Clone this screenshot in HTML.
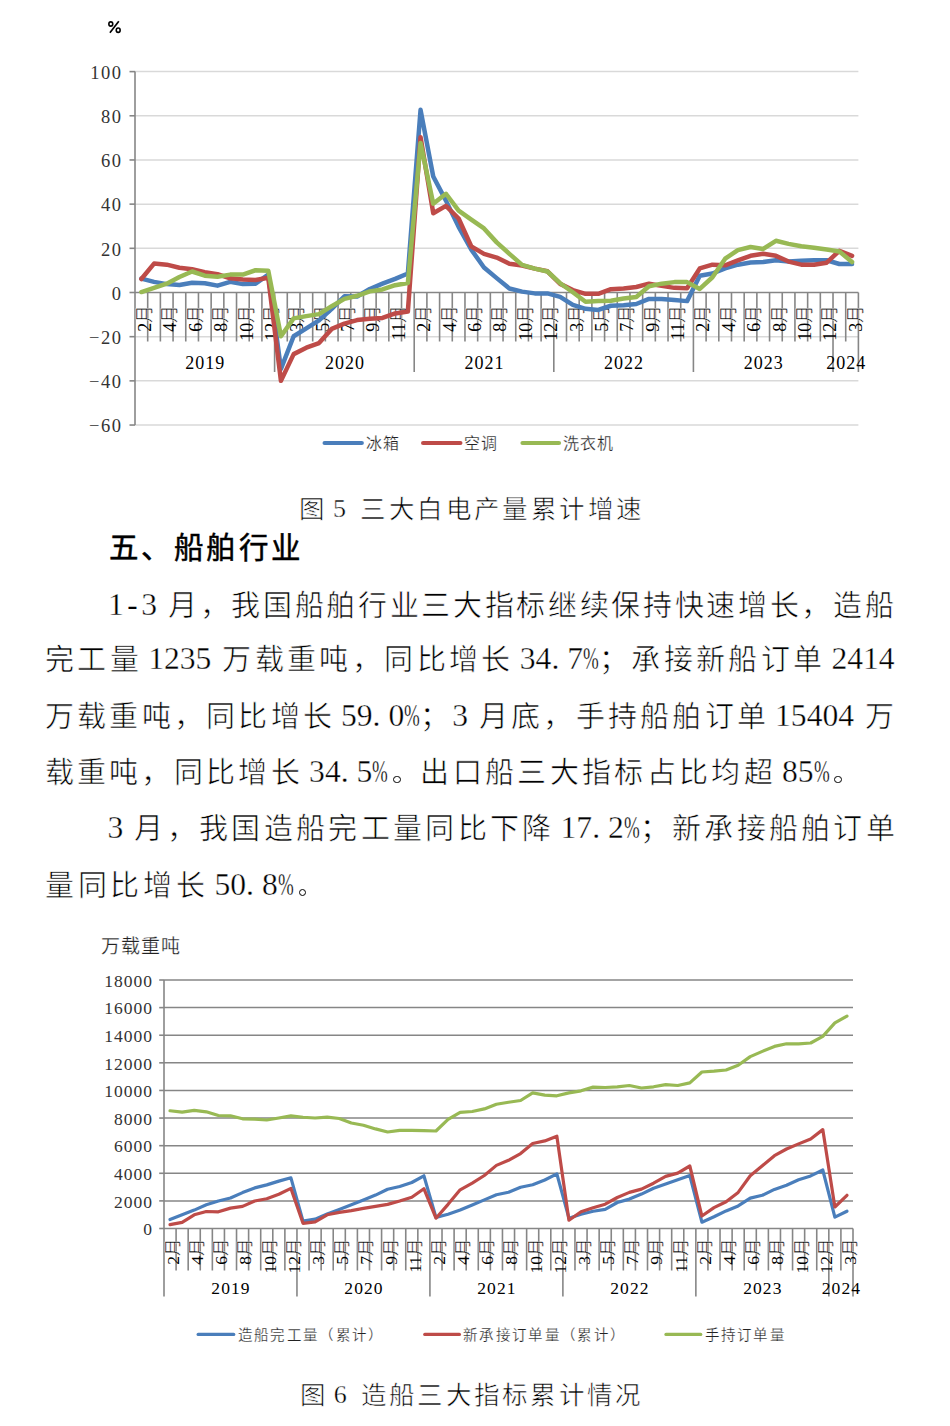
<!DOCTYPE html>
<html lang="zh-CN"><head><meta charset="utf-8"><title>船舶行业</title>
<style>
html,body{margin:0;padding:0;background:#fff}
body{width:950px;height:1426px;position:relative;overflow:hidden}
svg{position:absolute;left:0;top:0}
.t{position:absolute;white-space:nowrap;font-family:"Liberation Serif", serif;font-size:29px;line-height:40px;color:#000;-webkit-text-stroke:0.6px #fff}
.n{font-family:"Liberation Serif", serif;font-size:31.6px;vertical-align:0.8px;-webkit-text-stroke:0.35px #fff}
.pc{display:inline-block;font-family:"Liberation Serif", serif;font-size:31.6px;vertical-align:0.8px;transform:scaleX(0.6);transform-origin:0 0;-webkit-text-stroke:0.35px #fff;letter-spacing:0}
.o{display:inline-block;height:1px;position:relative}
.o::after{content:'';position:absolute;left:5px;bottom:-0.5px;width:5.5px;height:5.5px;border:1.1px solid #000;border-radius:50%}
.m{font-family:"Liberation Mono",monospace;letter-spacing:0px;-webkit-text-stroke:0}
.s{display:inline-block}
.cap{position:absolute;white-space:nowrap;font-family:"Liberation Serif", serif;font-size:25.5px;line-height:30px;color:#000;-webkit-text-stroke:0.6px #fff}
.h{position:absolute;white-space:nowrap;font-family:"Liberation Sans", sans-serif;font-weight:normal;-webkit-text-stroke:0.5px #000;font-size:29.5px;line-height:40px;color:#000}
</style></head>
<body>
<svg width="950" height="1426" viewBox="0 0 950 1426">
<g fill="none" stroke="#000" stroke-width="1.6"><ellipse cx="110.8" cy="24.0" rx="1.95" ry="2.1"/><ellipse cx="118.2" cy="30.2" rx="1.95" ry="2.2"/><line x1="109.9" y1="32.7" x2="118.8" y2="21.2" stroke-width="1.7"/></g>
<line x1="135" y1="71.6" x2="858.4" y2="71.6" stroke="#D9D9D9" stroke-width="1.5"/>
<line x1="135" y1="115.78" x2="858.4" y2="115.78" stroke="#D9D9D9" stroke-width="1.5"/>
<line x1="135" y1="159.96" x2="858.4" y2="159.96" stroke="#D9D9D9" stroke-width="1.5"/>
<line x1="135" y1="204.14" x2="858.4" y2="204.14" stroke="#D9D9D9" stroke-width="1.5"/>
<line x1="135" y1="248.32" x2="858.4" y2="248.32" stroke="#D9D9D9" stroke-width="1.5"/>
<line x1="135" y1="336.68" x2="858.4" y2="336.68" stroke="#D9D9D9" stroke-width="1.5"/>
<line x1="135" y1="380.86" x2="858.4" y2="380.86" stroke="#D9D9D9" stroke-width="1.5"/>
<line x1="135" y1="425.04" x2="858.4" y2="425.04" stroke="#D9D9D9" stroke-width="1.5"/>
<line x1="129.5" y1="71.6" x2="135" y2="71.6" stroke="#868686" stroke-width="1.6"/>
<line x1="129.5" y1="115.78" x2="135" y2="115.78" stroke="#868686" stroke-width="1.6"/>
<line x1="129.5" y1="159.96" x2="135" y2="159.96" stroke="#868686" stroke-width="1.6"/>
<line x1="129.5" y1="204.14" x2="135" y2="204.14" stroke="#868686" stroke-width="1.6"/>
<line x1="129.5" y1="248.32" x2="135" y2="248.32" stroke="#868686" stroke-width="1.6"/>
<line x1="129.5" y1="292.5" x2="135" y2="292.5" stroke="#868686" stroke-width="1.6"/>
<line x1="129.5" y1="336.68" x2="135" y2="336.68" stroke="#868686" stroke-width="1.6"/>
<line x1="129.5" y1="380.86" x2="135" y2="380.86" stroke="#868686" stroke-width="1.6"/>
<line x1="129.5" y1="425.04" x2="135" y2="425.04" stroke="#868686" stroke-width="1.6"/>
<line x1="147.69" y1="292.5" x2="147.69" y2="341.5" stroke="#868686" stroke-width="1.6"/>
<line x1="160.38" y1="292.5" x2="160.38" y2="341.5" stroke="#868686" stroke-width="1.6"/>
<line x1="173.07" y1="292.5" x2="173.07" y2="341.5" stroke="#868686" stroke-width="1.6"/>
<line x1="185.76" y1="292.5" x2="185.76" y2="341.5" stroke="#868686" stroke-width="1.6"/>
<line x1="198.46" y1="292.5" x2="198.46" y2="341.5" stroke="#868686" stroke-width="1.6"/>
<line x1="211.15" y1="292.5" x2="211.15" y2="341.5" stroke="#868686" stroke-width="1.6"/>
<line x1="223.84" y1="292.5" x2="223.84" y2="341.5" stroke="#868686" stroke-width="1.6"/>
<line x1="236.53" y1="292.5" x2="236.53" y2="341.5" stroke="#868686" stroke-width="1.6"/>
<line x1="249.22" y1="292.5" x2="249.22" y2="341.5" stroke="#868686" stroke-width="1.6"/>
<line x1="261.91" y1="292.5" x2="261.91" y2="341.5" stroke="#868686" stroke-width="1.6"/>
<line x1="274.6" y1="292.5" x2="274.6" y2="372" stroke="#868686" stroke-width="1.6"/>
<line x1="287.29" y1="292.5" x2="287.29" y2="341.5" stroke="#868686" stroke-width="1.6"/>
<line x1="299.99" y1="292.5" x2="299.99" y2="341.5" stroke="#868686" stroke-width="1.6"/>
<line x1="312.68" y1="292.5" x2="312.68" y2="341.5" stroke="#868686" stroke-width="1.6"/>
<line x1="325.37" y1="292.5" x2="325.37" y2="341.5" stroke="#868686" stroke-width="1.6"/>
<line x1="338.06" y1="292.5" x2="338.06" y2="341.5" stroke="#868686" stroke-width="1.6"/>
<line x1="350.75" y1="292.5" x2="350.75" y2="341.5" stroke="#868686" stroke-width="1.6"/>
<line x1="363.44" y1="292.5" x2="363.44" y2="341.5" stroke="#868686" stroke-width="1.6"/>
<line x1="376.13" y1="292.5" x2="376.13" y2="341.5" stroke="#868686" stroke-width="1.6"/>
<line x1="388.82" y1="292.5" x2="388.82" y2="341.5" stroke="#868686" stroke-width="1.6"/>
<line x1="401.52" y1="292.5" x2="401.52" y2="341.5" stroke="#868686" stroke-width="1.6"/>
<line x1="414.21" y1="292.5" x2="414.21" y2="372" stroke="#868686" stroke-width="1.6"/>
<line x1="426.9" y1="292.5" x2="426.9" y2="341.5" stroke="#868686" stroke-width="1.6"/>
<line x1="439.59" y1="292.5" x2="439.59" y2="341.5" stroke="#868686" stroke-width="1.6"/>
<line x1="452.28" y1="292.5" x2="452.28" y2="341.5" stroke="#868686" stroke-width="1.6"/>
<line x1="464.97" y1="292.5" x2="464.97" y2="341.5" stroke="#868686" stroke-width="1.6"/>
<line x1="477.66" y1="292.5" x2="477.66" y2="341.5" stroke="#868686" stroke-width="1.6"/>
<line x1="490.35" y1="292.5" x2="490.35" y2="341.5" stroke="#868686" stroke-width="1.6"/>
<line x1="503.05" y1="292.5" x2="503.05" y2="341.5" stroke="#868686" stroke-width="1.6"/>
<line x1="515.74" y1="292.5" x2="515.74" y2="341.5" stroke="#868686" stroke-width="1.6"/>
<line x1="528.43" y1="292.5" x2="528.43" y2="341.5" stroke="#868686" stroke-width="1.6"/>
<line x1="541.12" y1="292.5" x2="541.12" y2="341.5" stroke="#868686" stroke-width="1.6"/>
<line x1="553.81" y1="292.5" x2="553.81" y2="372" stroke="#868686" stroke-width="1.6"/>
<line x1="566.5" y1="292.5" x2="566.5" y2="341.5" stroke="#868686" stroke-width="1.6"/>
<line x1="579.19" y1="292.5" x2="579.19" y2="341.5" stroke="#868686" stroke-width="1.6"/>
<line x1="591.88" y1="292.5" x2="591.88" y2="341.5" stroke="#868686" stroke-width="1.6"/>
<line x1="604.58" y1="292.5" x2="604.58" y2="341.5" stroke="#868686" stroke-width="1.6"/>
<line x1="617.27" y1="292.5" x2="617.27" y2="341.5" stroke="#868686" stroke-width="1.6"/>
<line x1="629.96" y1="292.5" x2="629.96" y2="341.5" stroke="#868686" stroke-width="1.6"/>
<line x1="642.65" y1="292.5" x2="642.65" y2="341.5" stroke="#868686" stroke-width="1.6"/>
<line x1="655.34" y1="292.5" x2="655.34" y2="341.5" stroke="#868686" stroke-width="1.6"/>
<line x1="668.03" y1="292.5" x2="668.03" y2="341.5" stroke="#868686" stroke-width="1.6"/>
<line x1="680.72" y1="292.5" x2="680.72" y2="341.5" stroke="#868686" stroke-width="1.6"/>
<line x1="693.41" y1="292.5" x2="693.41" y2="372" stroke="#868686" stroke-width="1.6"/>
<line x1="706.11" y1="292.5" x2="706.11" y2="341.5" stroke="#868686" stroke-width="1.6"/>
<line x1="718.8" y1="292.5" x2="718.8" y2="341.5" stroke="#868686" stroke-width="1.6"/>
<line x1="731.49" y1="292.5" x2="731.49" y2="341.5" stroke="#868686" stroke-width="1.6"/>
<line x1="744.18" y1="292.5" x2="744.18" y2="341.5" stroke="#868686" stroke-width="1.6"/>
<line x1="756.87" y1="292.5" x2="756.87" y2="341.5" stroke="#868686" stroke-width="1.6"/>
<line x1="769.56" y1="292.5" x2="769.56" y2="341.5" stroke="#868686" stroke-width="1.6"/>
<line x1="782.25" y1="292.5" x2="782.25" y2="341.5" stroke="#868686" stroke-width="1.6"/>
<line x1="794.94" y1="292.5" x2="794.94" y2="341.5" stroke="#868686" stroke-width="1.6"/>
<line x1="807.64" y1="292.5" x2="807.64" y2="341.5" stroke="#868686" stroke-width="1.6"/>
<line x1="820.33" y1="292.5" x2="820.33" y2="341.5" stroke="#868686" stroke-width="1.6"/>
<line x1="833.02" y1="292.5" x2="833.02" y2="372" stroke="#868686" stroke-width="1.6"/>
<line x1="845.71" y1="292.5" x2="845.71" y2="341.5" stroke="#868686" stroke-width="1.6"/>
<line x1="858.4" y1="292.5" x2="858.4" y2="372" stroke="#868686" stroke-width="1.6"/>
<line x1="135" y1="71.6" x2="135" y2="425" stroke="#868686" stroke-width="1.6"/>
<line x1="135" y1="292.5" x2="858.4" y2="292.5" stroke="#868686" stroke-width="1.6"/>
<text x="122.4" y="78.8" text-anchor="end" font-family='"Liberation Serif", serif' font-size="18.5" letter-spacing="1.5" fill="#333">100</text>
<text x="122.4" y="122.98" text-anchor="end" font-family='"Liberation Serif", serif' font-size="18.5" letter-spacing="1.5" fill="#333">80</text>
<text x="122.4" y="167.16" text-anchor="end" font-family='"Liberation Serif", serif' font-size="18.5" letter-spacing="1.5" fill="#333">60</text>
<text x="122.4" y="211.34" text-anchor="end" font-family='"Liberation Serif", serif' font-size="18.5" letter-spacing="1.5" fill="#333">40</text>
<text x="122.4" y="255.52" text-anchor="end" font-family='"Liberation Serif", serif' font-size="18.5" letter-spacing="1.5" fill="#333">20</text>
<text x="122.4" y="299.7" text-anchor="end" font-family='"Liberation Serif", serif' font-size="18.5" letter-spacing="1.5" fill="#333">0</text>
<text x="122.4" y="343.88" text-anchor="end" font-family='"Liberation Serif", serif' font-size="18.5" letter-spacing="1.5" fill="#333">−20</text>
<text x="122.4" y="388.06" text-anchor="end" font-family='"Liberation Serif", serif' font-size="18.5" letter-spacing="1.5" fill="#333">−40</text>
<text x="122.4" y="432.24" text-anchor="end" font-family='"Liberation Serif", serif' font-size="18.5" letter-spacing="1.5" fill="#333">−60</text>
<text transform="translate(151.05,304.8) rotate(-90)" text-anchor="end" font-family='"Liberation Serif", serif' font-size="18" fill="#000" stroke="#fff" stroke-width="0.45"><tspan stroke="none">2</tspan>月</text>
<text transform="translate(176.43,304.8) rotate(-90)" text-anchor="end" font-family='"Liberation Serif", serif' font-size="18" fill="#000" stroke="#fff" stroke-width="0.45"><tspan stroke="none">4</tspan>月</text>
<text transform="translate(201.81,304.8) rotate(-90)" text-anchor="end" font-family='"Liberation Serif", serif' font-size="18" fill="#000" stroke="#fff" stroke-width="0.45"><tspan stroke="none">6</tspan>月</text>
<text transform="translate(227.19,304.8) rotate(-90)" text-anchor="end" font-family='"Liberation Serif", serif' font-size="18" fill="#000" stroke="#fff" stroke-width="0.45"><tspan stroke="none">8</tspan>月</text>
<text transform="translate(252.58,304.8) rotate(-90)" text-anchor="end" font-family='"Liberation Serif", serif' font-size="18" fill="#000" stroke="#fff" stroke-width="0.45"><tspan stroke="none">10</tspan>月</text>
<text transform="translate(277.96,304.8) rotate(-90)" text-anchor="end" font-family='"Liberation Serif", serif' font-size="18" fill="#000" stroke="#fff" stroke-width="0.45"><tspan stroke="none">12</tspan>月</text>
<text transform="translate(303.34,304.8) rotate(-90)" text-anchor="end" font-family='"Liberation Serif", serif' font-size="18" fill="#000" stroke="#fff" stroke-width="0.45"><tspan stroke="none">3</tspan>月</text>
<text transform="translate(328.72,304.8) rotate(-90)" text-anchor="end" font-family='"Liberation Serif", serif' font-size="18" fill="#000" stroke="#fff" stroke-width="0.45"><tspan stroke="none">5</tspan>月</text>
<text transform="translate(354.11,304.8) rotate(-90)" text-anchor="end" font-family='"Liberation Serif", serif' font-size="18" fill="#000" stroke="#fff" stroke-width="0.45"><tspan stroke="none">7</tspan>月</text>
<text transform="translate(379.49,304.8) rotate(-90)" text-anchor="end" font-family='"Liberation Serif", serif' font-size="18" fill="#000" stroke="#fff" stroke-width="0.45"><tspan stroke="none">9</tspan>月</text>
<text transform="translate(404.87,304.8) rotate(-90)" text-anchor="end" font-family='"Liberation Serif", serif' font-size="18" fill="#000" stroke="#fff" stroke-width="0.45"><tspan stroke="none">11</tspan>月</text>
<text transform="translate(430.25,304.8) rotate(-90)" text-anchor="end" font-family='"Liberation Serif", serif' font-size="18" fill="#000" stroke="#fff" stroke-width="0.45"><tspan stroke="none">2</tspan>月</text>
<text transform="translate(455.64,304.8) rotate(-90)" text-anchor="end" font-family='"Liberation Serif", serif' font-size="18" fill="#000" stroke="#fff" stroke-width="0.45"><tspan stroke="none">4</tspan>月</text>
<text transform="translate(481.02,304.8) rotate(-90)" text-anchor="end" font-family='"Liberation Serif", serif' font-size="18" fill="#000" stroke="#fff" stroke-width="0.45"><tspan stroke="none">6</tspan>月</text>
<text transform="translate(506.4,304.8) rotate(-90)" text-anchor="end" font-family='"Liberation Serif", serif' font-size="18" fill="#000" stroke="#fff" stroke-width="0.45"><tspan stroke="none">8</tspan>月</text>
<text transform="translate(531.78,304.8) rotate(-90)" text-anchor="end" font-family='"Liberation Serif", serif' font-size="18" fill="#000" stroke="#fff" stroke-width="0.45"><tspan stroke="none">10</tspan>月</text>
<text transform="translate(557.16,304.8) rotate(-90)" text-anchor="end" font-family='"Liberation Serif", serif' font-size="18" fill="#000" stroke="#fff" stroke-width="0.45"><tspan stroke="none">12</tspan>月</text>
<text transform="translate(582.55,304.8) rotate(-90)" text-anchor="end" font-family='"Liberation Serif", serif' font-size="18" fill="#000" stroke="#fff" stroke-width="0.45"><tspan stroke="none">3</tspan>月</text>
<text transform="translate(607.93,304.8) rotate(-90)" text-anchor="end" font-family='"Liberation Serif", serif' font-size="18" fill="#000" stroke="#fff" stroke-width="0.45"><tspan stroke="none">5</tspan>月</text>
<text transform="translate(633.31,304.8) rotate(-90)" text-anchor="end" font-family='"Liberation Serif", serif' font-size="18" fill="#000" stroke="#fff" stroke-width="0.45"><tspan stroke="none">7</tspan>月</text>
<text transform="translate(658.69,304.8) rotate(-90)" text-anchor="end" font-family='"Liberation Serif", serif' font-size="18" fill="#000" stroke="#fff" stroke-width="0.45"><tspan stroke="none">9</tspan>月</text>
<text transform="translate(684.08,304.8) rotate(-90)" text-anchor="end" font-family='"Liberation Serif", serif' font-size="18" fill="#000" stroke="#fff" stroke-width="0.45"><tspan stroke="none">11</tspan>月</text>
<text transform="translate(709.46,304.8) rotate(-90)" text-anchor="end" font-family='"Liberation Serif", serif' font-size="18" fill="#000" stroke="#fff" stroke-width="0.45"><tspan stroke="none">2</tspan>月</text>
<text transform="translate(734.84,304.8) rotate(-90)" text-anchor="end" font-family='"Liberation Serif", serif' font-size="18" fill="#000" stroke="#fff" stroke-width="0.45"><tspan stroke="none">4</tspan>月</text>
<text transform="translate(760.22,304.8) rotate(-90)" text-anchor="end" font-family='"Liberation Serif", serif' font-size="18" fill="#000" stroke="#fff" stroke-width="0.45"><tspan stroke="none">6</tspan>月</text>
<text transform="translate(785.61,304.8) rotate(-90)" text-anchor="end" font-family='"Liberation Serif", serif' font-size="18" fill="#000" stroke="#fff" stroke-width="0.45"><tspan stroke="none">8</tspan>月</text>
<text transform="translate(810.99,304.8) rotate(-90)" text-anchor="end" font-family='"Liberation Serif", serif' font-size="18" fill="#000" stroke="#fff" stroke-width="0.45"><tspan stroke="none">10</tspan>月</text>
<text transform="translate(836.37,304.8) rotate(-90)" text-anchor="end" font-family='"Liberation Serif", serif' font-size="18" fill="#000" stroke="#fff" stroke-width="0.45"><tspan stroke="none">12</tspan>月</text>
<text transform="translate(861.75,304.8) rotate(-90)" text-anchor="end" font-family='"Liberation Serif", serif' font-size="18" fill="#000" stroke="#fff" stroke-width="0.45"><tspan stroke="none">3</tspan>月</text>
<text x="205.3" y="369.3" text-anchor="middle" font-family='"Liberation Serif", serif' font-size="18" letter-spacing="1.0" fill="#000">2019</text>
<text x="344.91" y="369.3" text-anchor="middle" font-family='"Liberation Serif", serif' font-size="18" letter-spacing="1.0" fill="#000">2020</text>
<text x="484.51" y="369.3" text-anchor="middle" font-family='"Liberation Serif", serif' font-size="18" letter-spacing="1.0" fill="#000">2021</text>
<text x="624.11" y="369.3" text-anchor="middle" font-family='"Liberation Serif", serif' font-size="18" letter-spacing="1.0" fill="#000">2022</text>
<text x="763.72" y="369.3" text-anchor="middle" font-family='"Liberation Serif", serif' font-size="18" letter-spacing="1.0" fill="#000">2023</text>
<text x="846.21" y="369.3" text-anchor="middle" font-family='"Liberation Serif", serif' font-size="18" letter-spacing="1.0" fill="#000">2024</text>
<polyline points="141.35,278.58 154.04,281.9 166.73,284.11 179.42,284.99 192.11,282.78 204.8,283.22 217.49,285.65 230.18,281.9 242.88,284.11 255.57,283.66 268.26,274.61 280.95,368.93 293.64,336.24 306.33,328.29 319.02,320.33 331.71,308.85 344.41,296.26 357.1,296.48 369.79,288.97 382.48,283.66 395.17,278.8 407.86,273.5 420.55,109.82 433.24,176.53 445.94,200.61 458.63,226.89 471.32,249.65 484.01,267.54 496.7,278.14 509.39,288.52 522.08,291.62 534.77,293.38 547.46,293.38 560.16,296.92 572.85,304.87 585.54,308.85 598.23,309.95 610.92,305.75 623.61,305.31 636.3,303.99 648.99,298.91 661.69,298.91 674.38,300.01 687.07,301.12 699.76,275.71 712.45,273.5 725.14,268.42 737.83,264.67 750.52,262.46 763.22,262.02 775.91,260.25 788.6,261.57 801.29,260.69 813.98,260.25 826.67,260.25 839.36,264 852.05,264" fill="none" stroke="#4A7EBB" stroke-width="4.5" stroke-linejoin="round" stroke-linecap="round"/>
<polyline points="141.35,279.03 154.04,263.56 166.73,264.67 179.42,267.76 192.11,269.31 204.8,272.18 217.49,274.17 230.18,278.36 242.88,279.47 255.57,279.91 268.26,277.7 280.95,380.86 293.64,354.13 306.33,347.73 319.02,343.09 331.71,328.95 344.41,323.65 357.1,320.11 369.79,318.79 382.48,317.9 395.17,313.49 407.86,311.5 420.55,137.21 433.24,213.2 445.94,205.91 458.63,218.5 471.32,246.55 484.01,253.84 496.7,257.6 509.39,263.78 522.08,265.55 534.77,268.64 547.46,271.29 560.16,283.88 572.85,290.07 585.54,293.83 598.23,293.83 610.92,289.19 623.61,288.52 636.3,286.98 648.99,283.66 661.69,285.87 674.38,287.86 687.07,288.3 699.76,268.42 712.45,264.67 725.14,265.33 737.83,260.47 750.52,255.83 763.22,253.84 775.91,255.83 788.6,261.57 801.29,264.67 813.98,264.67 826.67,262.68 839.36,250.75 852.05,255.83" fill="none" stroke="#BE4B48" stroke-width="4.5" stroke-linejoin="round" stroke-linecap="round"/>
<polyline points="141.35,292.06 154.04,287.86 166.73,283.66 179.42,277.04 192.11,271.51 204.8,275.71 217.49,276.82 230.18,274.61 242.88,274.61 255.57,270.19 268.26,270.63 280.95,336.24 293.64,318.35 306.33,316.14 319.02,314.15 331.71,306.2 344.41,298.91 357.1,295.81 369.79,291.4 382.48,289.41 395.17,285.21 407.86,283 420.55,142.95 433.24,203.7 445.94,193.76 458.63,210.55 471.32,219.6 484.01,228.44 496.7,242.36 509.39,253.84 522.08,264.89 534.77,268.64 547.46,271.51 560.16,283.22 572.85,292.28 585.54,301.78 598.23,301.12 610.92,300.67 623.61,298.46 636.3,296.92 648.99,286.31 661.69,283.66 674.38,282.12 687.07,282.12 699.76,288.97 712.45,277.26 725.14,258.7 737.83,250.09 750.52,246.99 763.22,248.98 775.91,240.81 788.6,243.9 801.29,246.33 813.98,247.66 826.67,249.42 839.36,251.41 852.05,262.02" fill="none" stroke="#98B954" stroke-width="4.5" stroke-linejoin="round" stroke-linecap="round"/>
<line x1="324.6" y1="443" x2="361.8" y2="443" stroke="#4A7EBB" stroke-width="4.2" stroke-linecap="round"/><text x="366.0" y="448.8" font-family='"Liberation Serif", serif' font-size="16" letter-spacing="1.1" fill="#222" stroke="#fff" stroke-width="0.25">冰箱</text><line x1="423.1" y1="443" x2="460.4" y2="443" stroke="#BE4B48" stroke-width="4.2" stroke-linecap="round"/><text x="464.2" y="448.8" font-family='"Liberation Serif", serif' font-size="16" letter-spacing="1.1" fill="#222" stroke="#fff" stroke-width="0.25">空调</text><line x1="522.5" y1="443" x2="559.0" y2="443" stroke="#98B954" stroke-width="4.2" stroke-linecap="round"/><text x="562.5" y="448.8" font-family='"Liberation Serif", serif' font-size="16" letter-spacing="1.1" fill="#222" stroke="#fff" stroke-width="0.25">洗衣机</text>
<text x="100.5" y="952.5" font-family='"Liberation Serif", serif' font-size="19" letter-spacing="1" fill="#222" stroke="#fff" stroke-width="0.25">万载重吨</text>
<line x1="164" y1="1200.89" x2="853" y2="1200.89" stroke="#868686" stroke-width="1.5"/>
<line x1="164" y1="1173.28" x2="853" y2="1173.28" stroke="#868686" stroke-width="1.5"/>
<line x1="164" y1="1145.67" x2="853" y2="1145.67" stroke="#868686" stroke-width="1.5"/>
<line x1="164" y1="1118.06" x2="853" y2="1118.06" stroke="#868686" stroke-width="1.5"/>
<line x1="164" y1="1090.44" x2="853" y2="1090.44" stroke="#868686" stroke-width="1.5"/>
<line x1="164" y1="1062.83" x2="853" y2="1062.83" stroke="#868686" stroke-width="1.5"/>
<line x1="164" y1="1035.22" x2="853" y2="1035.22" stroke="#868686" stroke-width="1.5"/>
<line x1="164" y1="1007.61" x2="853" y2="1007.61" stroke="#868686" stroke-width="1.5"/>
<line x1="164" y1="980" x2="853" y2="980" stroke="#868686" stroke-width="1.5"/>
<line x1="159.2" y1="980" x2="164" y2="980" stroke="#868686" stroke-width="1.6"/>
<line x1="159.2" y1="1007.61" x2="164" y2="1007.61" stroke="#868686" stroke-width="1.6"/>
<line x1="159.2" y1="1035.22" x2="164" y2="1035.22" stroke="#868686" stroke-width="1.6"/>
<line x1="159.2" y1="1062.83" x2="164" y2="1062.83" stroke="#868686" stroke-width="1.6"/>
<line x1="159.2" y1="1090.44" x2="164" y2="1090.44" stroke="#868686" stroke-width="1.6"/>
<line x1="159.2" y1="1118.06" x2="164" y2="1118.06" stroke="#868686" stroke-width="1.6"/>
<line x1="159.2" y1="1145.67" x2="164" y2="1145.67" stroke="#868686" stroke-width="1.6"/>
<line x1="159.2" y1="1173.28" x2="164" y2="1173.28" stroke="#868686" stroke-width="1.6"/>
<line x1="159.2" y1="1200.89" x2="164" y2="1200.89" stroke="#868686" stroke-width="1.6"/>
<line x1="159.2" y1="1228.5" x2="164" y2="1228.5" stroke="#868686" stroke-width="1.6"/>
<line x1="176.09" y1="1228.5" x2="176.09" y2="1270.5" stroke="#868686" stroke-width="1.6"/>
<line x1="188.18" y1="1228.5" x2="188.18" y2="1270.5" stroke="#868686" stroke-width="1.6"/>
<line x1="200.26" y1="1228.5" x2="200.26" y2="1270.5" stroke="#868686" stroke-width="1.6"/>
<line x1="212.35" y1="1228.5" x2="212.35" y2="1270.5" stroke="#868686" stroke-width="1.6"/>
<line x1="224.44" y1="1228.5" x2="224.44" y2="1270.5" stroke="#868686" stroke-width="1.6"/>
<line x1="236.53" y1="1228.5" x2="236.53" y2="1270.5" stroke="#868686" stroke-width="1.6"/>
<line x1="248.61" y1="1228.5" x2="248.61" y2="1270.5" stroke="#868686" stroke-width="1.6"/>
<line x1="260.7" y1="1228.5" x2="260.7" y2="1270.5" stroke="#868686" stroke-width="1.6"/>
<line x1="272.79" y1="1228.5" x2="272.79" y2="1270.5" stroke="#868686" stroke-width="1.6"/>
<line x1="284.88" y1="1228.5" x2="284.88" y2="1270.5" stroke="#868686" stroke-width="1.6"/>
<line x1="296.96" y1="1228.5" x2="296.96" y2="1296.6" stroke="#868686" stroke-width="1.6"/>
<line x1="309.05" y1="1228.5" x2="309.05" y2="1270.5" stroke="#868686" stroke-width="1.6"/>
<line x1="321.14" y1="1228.5" x2="321.14" y2="1270.5" stroke="#868686" stroke-width="1.6"/>
<line x1="333.23" y1="1228.5" x2="333.23" y2="1270.5" stroke="#868686" stroke-width="1.6"/>
<line x1="345.32" y1="1228.5" x2="345.32" y2="1270.5" stroke="#868686" stroke-width="1.6"/>
<line x1="357.4" y1="1228.5" x2="357.4" y2="1270.5" stroke="#868686" stroke-width="1.6"/>
<line x1="369.49" y1="1228.5" x2="369.49" y2="1270.5" stroke="#868686" stroke-width="1.6"/>
<line x1="381.58" y1="1228.5" x2="381.58" y2="1270.5" stroke="#868686" stroke-width="1.6"/>
<line x1="393.67" y1="1228.5" x2="393.67" y2="1270.5" stroke="#868686" stroke-width="1.6"/>
<line x1="405.75" y1="1228.5" x2="405.75" y2="1270.5" stroke="#868686" stroke-width="1.6"/>
<line x1="417.84" y1="1228.5" x2="417.84" y2="1270.5" stroke="#868686" stroke-width="1.6"/>
<line x1="429.93" y1="1228.5" x2="429.93" y2="1296.6" stroke="#868686" stroke-width="1.6"/>
<line x1="442.02" y1="1228.5" x2="442.02" y2="1270.5" stroke="#868686" stroke-width="1.6"/>
<line x1="454.11" y1="1228.5" x2="454.11" y2="1270.5" stroke="#868686" stroke-width="1.6"/>
<line x1="466.19" y1="1228.5" x2="466.19" y2="1270.5" stroke="#868686" stroke-width="1.6"/>
<line x1="478.28" y1="1228.5" x2="478.28" y2="1270.5" stroke="#868686" stroke-width="1.6"/>
<line x1="490.37" y1="1228.5" x2="490.37" y2="1270.5" stroke="#868686" stroke-width="1.6"/>
<line x1="502.46" y1="1228.5" x2="502.46" y2="1270.5" stroke="#868686" stroke-width="1.6"/>
<line x1="514.54" y1="1228.5" x2="514.54" y2="1270.5" stroke="#868686" stroke-width="1.6"/>
<line x1="526.63" y1="1228.5" x2="526.63" y2="1270.5" stroke="#868686" stroke-width="1.6"/>
<line x1="538.72" y1="1228.5" x2="538.72" y2="1270.5" stroke="#868686" stroke-width="1.6"/>
<line x1="550.81" y1="1228.5" x2="550.81" y2="1270.5" stroke="#868686" stroke-width="1.6"/>
<line x1="562.89" y1="1228.5" x2="562.89" y2="1296.6" stroke="#868686" stroke-width="1.6"/>
<line x1="574.98" y1="1228.5" x2="574.98" y2="1270.5" stroke="#868686" stroke-width="1.6"/>
<line x1="587.07" y1="1228.5" x2="587.07" y2="1270.5" stroke="#868686" stroke-width="1.6"/>
<line x1="599.16" y1="1228.5" x2="599.16" y2="1270.5" stroke="#868686" stroke-width="1.6"/>
<line x1="611.25" y1="1228.5" x2="611.25" y2="1270.5" stroke="#868686" stroke-width="1.6"/>
<line x1="623.33" y1="1228.5" x2="623.33" y2="1270.5" stroke="#868686" stroke-width="1.6"/>
<line x1="635.42" y1="1228.5" x2="635.42" y2="1270.5" stroke="#868686" stroke-width="1.6"/>
<line x1="647.51" y1="1228.5" x2="647.51" y2="1270.5" stroke="#868686" stroke-width="1.6"/>
<line x1="659.6" y1="1228.5" x2="659.6" y2="1270.5" stroke="#868686" stroke-width="1.6"/>
<line x1="671.68" y1="1228.5" x2="671.68" y2="1270.5" stroke="#868686" stroke-width="1.6"/>
<line x1="683.77" y1="1228.5" x2="683.77" y2="1270.5" stroke="#868686" stroke-width="1.6"/>
<line x1="695.86" y1="1228.5" x2="695.86" y2="1296.6" stroke="#868686" stroke-width="1.6"/>
<line x1="707.95" y1="1228.5" x2="707.95" y2="1270.5" stroke="#868686" stroke-width="1.6"/>
<line x1="720.04" y1="1228.5" x2="720.04" y2="1270.5" stroke="#868686" stroke-width="1.6"/>
<line x1="732.12" y1="1228.5" x2="732.12" y2="1270.5" stroke="#868686" stroke-width="1.6"/>
<line x1="744.21" y1="1228.5" x2="744.21" y2="1270.5" stroke="#868686" stroke-width="1.6"/>
<line x1="756.3" y1="1228.5" x2="756.3" y2="1270.5" stroke="#868686" stroke-width="1.6"/>
<line x1="768.39" y1="1228.5" x2="768.39" y2="1270.5" stroke="#868686" stroke-width="1.6"/>
<line x1="780.47" y1="1228.5" x2="780.47" y2="1270.5" stroke="#868686" stroke-width="1.6"/>
<line x1="792.56" y1="1228.5" x2="792.56" y2="1270.5" stroke="#868686" stroke-width="1.6"/>
<line x1="804.65" y1="1228.5" x2="804.65" y2="1270.5" stroke="#868686" stroke-width="1.6"/>
<line x1="816.74" y1="1228.5" x2="816.74" y2="1270.5" stroke="#868686" stroke-width="1.6"/>
<line x1="828.82" y1="1228.5" x2="828.82" y2="1296.6" stroke="#868686" stroke-width="1.6"/>
<line x1="840.91" y1="1228.5" x2="840.91" y2="1270.5" stroke="#868686" stroke-width="1.6"/>
<line x1="853" y1="1228.5" x2="853" y2="1296.6" stroke="#868686" stroke-width="1.6"/>
<line x1="164" y1="979.9" x2="164" y2="1296.6" stroke="#868686" stroke-width="1.6"/>
<line x1="164" y1="1228.5" x2="853" y2="1228.5" stroke="#868686" stroke-width="1.6"/>
<text x="153" y="986.8" text-anchor="end" font-family='"Liberation Serif", serif' font-size="17.5" letter-spacing="1.0" fill="#333">18000</text>
<text x="153" y="1014.41" text-anchor="end" font-family='"Liberation Serif", serif' font-size="17.5" letter-spacing="1.0" fill="#333">16000</text>
<text x="153" y="1042.02" text-anchor="end" font-family='"Liberation Serif", serif' font-size="17.5" letter-spacing="1.0" fill="#333">14000</text>
<text x="153" y="1069.63" text-anchor="end" font-family='"Liberation Serif", serif' font-size="17.5" letter-spacing="1.0" fill="#333">12000</text>
<text x="153" y="1097.24" text-anchor="end" font-family='"Liberation Serif", serif' font-size="17.5" letter-spacing="1.0" fill="#333">10000</text>
<text x="153" y="1124.86" text-anchor="end" font-family='"Liberation Serif", serif' font-size="17.5" letter-spacing="1.0" fill="#333">8000</text>
<text x="153" y="1152.47" text-anchor="end" font-family='"Liberation Serif", serif' font-size="17.5" letter-spacing="1.0" fill="#333">6000</text>
<text x="153" y="1180.08" text-anchor="end" font-family='"Liberation Serif", serif' font-size="17.5" letter-spacing="1.0" fill="#333">4000</text>
<text x="153" y="1207.69" text-anchor="end" font-family='"Liberation Serif", serif' font-size="17.5" letter-spacing="1.0" fill="#333">2000</text>
<text x="153" y="1235.3" text-anchor="end" font-family='"Liberation Serif", serif' font-size="17.5" letter-spacing="1.0" fill="#333">0</text>
<text transform="translate(178.94,1238.9) rotate(-90)" text-anchor="end" font-family='"Liberation Serif", serif' font-size="17.5" fill="#000" stroke="#fff" stroke-width="0.45"><tspan stroke="none">2</tspan>月</text>
<text transform="translate(203.12,1238.9) rotate(-90)" text-anchor="end" font-family='"Liberation Serif", serif' font-size="17.5" fill="#000" stroke="#fff" stroke-width="0.45"><tspan stroke="none">4</tspan>月</text>
<text transform="translate(227.29,1238.9) rotate(-90)" text-anchor="end" font-family='"Liberation Serif", serif' font-size="17.5" fill="#000" stroke="#fff" stroke-width="0.45"><tspan stroke="none">6</tspan>月</text>
<text transform="translate(251.47,1238.9) rotate(-90)" text-anchor="end" font-family='"Liberation Serif", serif' font-size="17.5" fill="#000" stroke="#fff" stroke-width="0.45"><tspan stroke="none">8</tspan>月</text>
<text transform="translate(275.65,1238.9) rotate(-90)" text-anchor="end" font-family='"Liberation Serif", serif' font-size="17.5" fill="#000" stroke="#fff" stroke-width="0.45"><tspan stroke="none">10</tspan>月</text>
<text transform="translate(299.82,1238.9) rotate(-90)" text-anchor="end" font-family='"Liberation Serif", serif' font-size="17.5" fill="#000" stroke="#fff" stroke-width="0.45"><tspan stroke="none">12</tspan>月</text>
<text transform="translate(324,1238.9) rotate(-90)" text-anchor="end" font-family='"Liberation Serif", serif' font-size="17.5" fill="#000" stroke="#fff" stroke-width="0.45"><tspan stroke="none">3</tspan>月</text>
<text transform="translate(348.17,1238.9) rotate(-90)" text-anchor="end" font-family='"Liberation Serif", serif' font-size="17.5" fill="#000" stroke="#fff" stroke-width="0.45"><tspan stroke="none">5</tspan>月</text>
<text transform="translate(372.35,1238.9) rotate(-90)" text-anchor="end" font-family='"Liberation Serif", serif' font-size="17.5" fill="#000" stroke="#fff" stroke-width="0.45"><tspan stroke="none">7</tspan>月</text>
<text transform="translate(396.52,1238.9) rotate(-90)" text-anchor="end" font-family='"Liberation Serif", serif' font-size="17.5" fill="#000" stroke="#fff" stroke-width="0.45"><tspan stroke="none">9</tspan>月</text>
<text transform="translate(420.7,1238.9) rotate(-90)" text-anchor="end" font-family='"Liberation Serif", serif' font-size="17.5" fill="#000" stroke="#fff" stroke-width="0.45"><tspan stroke="none">11</tspan>月</text>
<text transform="translate(444.87,1238.9) rotate(-90)" text-anchor="end" font-family='"Liberation Serif", serif' font-size="17.5" fill="#000" stroke="#fff" stroke-width="0.45"><tspan stroke="none">2</tspan>月</text>
<text transform="translate(469.05,1238.9) rotate(-90)" text-anchor="end" font-family='"Liberation Serif", serif' font-size="17.5" fill="#000" stroke="#fff" stroke-width="0.45"><tspan stroke="none">4</tspan>月</text>
<text transform="translate(493.22,1238.9) rotate(-90)" text-anchor="end" font-family='"Liberation Serif", serif' font-size="17.5" fill="#000" stroke="#fff" stroke-width="0.45"><tspan stroke="none">6</tspan>月</text>
<text transform="translate(517.4,1238.9) rotate(-90)" text-anchor="end" font-family='"Liberation Serif", serif' font-size="17.5" fill="#000" stroke="#fff" stroke-width="0.45"><tspan stroke="none">8</tspan>月</text>
<text transform="translate(541.58,1238.9) rotate(-90)" text-anchor="end" font-family='"Liberation Serif", serif' font-size="17.5" fill="#000" stroke="#fff" stroke-width="0.45"><tspan stroke="none">10</tspan>月</text>
<text transform="translate(565.75,1238.9) rotate(-90)" text-anchor="end" font-family='"Liberation Serif", serif' font-size="17.5" fill="#000" stroke="#fff" stroke-width="0.45"><tspan stroke="none">12</tspan>月</text>
<text transform="translate(589.93,1238.9) rotate(-90)" text-anchor="end" font-family='"Liberation Serif", serif' font-size="17.5" fill="#000" stroke="#fff" stroke-width="0.45"><tspan stroke="none">3</tspan>月</text>
<text transform="translate(614.1,1238.9) rotate(-90)" text-anchor="end" font-family='"Liberation Serif", serif' font-size="17.5" fill="#000" stroke="#fff" stroke-width="0.45"><tspan stroke="none">5</tspan>月</text>
<text transform="translate(638.28,1238.9) rotate(-90)" text-anchor="end" font-family='"Liberation Serif", serif' font-size="17.5" fill="#000" stroke="#fff" stroke-width="0.45"><tspan stroke="none">7</tspan>月</text>
<text transform="translate(662.45,1238.9) rotate(-90)" text-anchor="end" font-family='"Liberation Serif", serif' font-size="17.5" fill="#000" stroke="#fff" stroke-width="0.45"><tspan stroke="none">9</tspan>月</text>
<text transform="translate(686.63,1238.9) rotate(-90)" text-anchor="end" font-family='"Liberation Serif", serif' font-size="17.5" fill="#000" stroke="#fff" stroke-width="0.45"><tspan stroke="none">11</tspan>月</text>
<text transform="translate(710.8,1238.9) rotate(-90)" text-anchor="end" font-family='"Liberation Serif", serif' font-size="17.5" fill="#000" stroke="#fff" stroke-width="0.45"><tspan stroke="none">2</tspan>月</text>
<text transform="translate(734.98,1238.9) rotate(-90)" text-anchor="end" font-family='"Liberation Serif", serif' font-size="17.5" fill="#000" stroke="#fff" stroke-width="0.45"><tspan stroke="none">4</tspan>月</text>
<text transform="translate(759.15,1238.9) rotate(-90)" text-anchor="end" font-family='"Liberation Serif", serif' font-size="17.5" fill="#000" stroke="#fff" stroke-width="0.45"><tspan stroke="none">6</tspan>月</text>
<text transform="translate(783.33,1238.9) rotate(-90)" text-anchor="end" font-family='"Liberation Serif", serif' font-size="17.5" fill="#000" stroke="#fff" stroke-width="0.45"><tspan stroke="none">8</tspan>月</text>
<text transform="translate(807.51,1238.9) rotate(-90)" text-anchor="end" font-family='"Liberation Serif", serif' font-size="17.5" fill="#000" stroke="#fff" stroke-width="0.45"><tspan stroke="none">10</tspan>月</text>
<text transform="translate(831.68,1238.9) rotate(-90)" text-anchor="end" font-family='"Liberation Serif", serif' font-size="17.5" fill="#000" stroke="#fff" stroke-width="0.45"><tspan stroke="none">12</tspan>月</text>
<text transform="translate(855.86,1238.9) rotate(-90)" text-anchor="end" font-family='"Liberation Serif", serif' font-size="17.5" fill="#000" stroke="#fff" stroke-width="0.45"><tspan stroke="none">3</tspan>月</text>
<text x="231.03" y="1294.1" text-anchor="middle" font-family='"Liberation Serif", serif' font-size="17.5" letter-spacing="1.1" fill="#000">2019</text>
<text x="364" y="1294.1" text-anchor="middle" font-family='"Liberation Serif", serif' font-size="17.5" letter-spacing="1.1" fill="#000">2020</text>
<text x="496.96" y="1294.1" text-anchor="middle" font-family='"Liberation Serif", serif' font-size="17.5" letter-spacing="1.1" fill="#000">2021</text>
<text x="629.93" y="1294.1" text-anchor="middle" font-family='"Liberation Serif", serif' font-size="17.5" letter-spacing="1.1" fill="#000">2022</text>
<text x="762.89" y="1294.1" text-anchor="middle" font-family='"Liberation Serif", serif' font-size="17.5" letter-spacing="1.1" fill="#000">2023</text>
<text x="841.46" y="1294.1" text-anchor="middle" font-family='"Liberation Serif", serif' font-size="17.5" letter-spacing="1.1" fill="#000">2024</text>
<polyline points="170.04,1219.55 182.13,1214.8 194.22,1210.1 206.31,1204.7 218.39,1201 230.48,1198 242.57,1192.61 254.66,1187.9 266.75,1184.9 278.83,1181.11 290.92,1177.81 303.01,1221.18 315.1,1219.11 327.18,1214 339.27,1209.41 351.36,1204.7 363.45,1200.01 375.54,1195.1 387.62,1189.21 399.71,1186.5 411.8,1182.5 423.89,1175.8 435.97,1217.4 448.06,1214.2 460.15,1210 472.24,1204.91 484.32,1199.89 496.41,1194.8 508.5,1192.3 520.59,1187.3 532.68,1184.71 544.76,1180 556.85,1173.8 568.94,1218.15 581.03,1214.2 593.11,1211.24 605.2,1209.3 617.29,1202.5 629.38,1199.09 641.46,1194.1 653.55,1188.2 665.64,1184 677.73,1179.81 689.82,1175.6 701.9,1222.2 713.99,1216.81 726.08,1210.9 738.17,1205.9 750.25,1198.13 762.34,1195.3 774.43,1189.4 786.52,1185.21 798.61,1179.81 810.69,1175.9 822.78,1170.01 834.87,1217.1 846.96,1211.2" fill="none" stroke="#4A7EBB" stroke-width="3.2" stroke-linejoin="round" stroke-linecap="round"/>
<polyline points="170.04,1224.61 182.13,1222.4 194.22,1214.8 206.31,1211.51 218.39,1211.8 230.48,1208.1 242.57,1206.4 254.66,1201 266.75,1198.8 278.83,1194.3 290.92,1188.41 303.01,1223.3 315.1,1221.9 327.18,1214.8 339.27,1212.31 351.36,1210.61 363.45,1208.4 375.54,1206.4 387.62,1204.4 399.71,1201 411.8,1197.2 423.89,1188.7 435.97,1218.2 448.06,1204.34 460.15,1189.8 472.24,1183.11 484.32,1175.5 496.41,1165.39 508.5,1160.3 520.59,1153.6 532.68,1143.5 544.76,1140.9 556.85,1136.2 568.94,1220.22 581.03,1211.7 593.11,1207.79 605.2,1204.2 617.29,1197.51 629.38,1192.4 641.46,1189.1 653.55,1183.2 665.64,1176.4 677.73,1173.1 689.82,1166 701.9,1216.01 713.99,1207.6 726.08,1201.7 738.17,1192.4 750.25,1175.76 762.34,1165.8 774.43,1155.7 786.52,1149.01 798.61,1143.9 810.69,1138.9 822.78,1129.61 834.87,1207 846.96,1195.3" fill="none" stroke="#BE4B48" stroke-width="3.2" stroke-linejoin="round" stroke-linecap="round"/>
<polyline points="170.04,1110.75 182.13,1112.11 194.22,1110.41 206.31,1111.8 218.39,1115.5 230.48,1115.81 242.57,1118.8 254.66,1119.2 266.75,1120 278.83,1118 290.92,1115.81 303.01,1117.23 315.1,1118 327.18,1117.2 339.27,1118.51 351.36,1123.01 363.45,1125.21 375.54,1128.91 387.62,1132 399.71,1130.3 411.8,1130.3 423.89,1130.6 435.97,1131.01 448.06,1119.44 460.15,1112.3 472.24,1111.51 484.32,1108.9 496.41,1104.21 508.5,1102.21 520.59,1100.51 532.68,1092.9 544.76,1095.11 556.85,1095.81 568.94,1092.9 581.03,1090.8 593.11,1087.13 605.2,1087.5 617.29,1086.8 629.38,1085.5 641.46,1088 653.55,1086.8 665.64,1084.6 677.73,1085.5 689.82,1082.91 701.9,1072 713.99,1071.2 726.08,1070 738.17,1065.3 750.25,1056.62 762.34,1051.4 774.43,1046.4 786.52,1043.81 798.61,1043.81 810.69,1043.01 822.78,1036.31 834.87,1022.81 846.96,1016.1" fill="none" stroke="#98B954" stroke-width="3.2" stroke-linejoin="round" stroke-linecap="round"/>
<line x1="198.2" y1="1334.4" x2="233.7" y2="1334.4" stroke="#4A7EBB" stroke-width="3.3" stroke-linecap="round"/><text x="237.8" y="1339.6" font-family='"Liberation Serif", serif' font-size="14.5" letter-spacing="2.3" fill="#222" stroke="#fff" stroke-width="0.25">造船完工量（累计）</text><line x1="424.8" y1="1334.4" x2="459.4" y2="1334.4" stroke="#BE4B48" stroke-width="3.3" stroke-linecap="round"/><text x="463.2" y="1339.6" font-family='"Liberation Serif", serif' font-size="14.5" letter-spacing="2.3" fill="#222" stroke="#fff" stroke-width="0.25">新承接订单量（累计）</text><line x1="666.0" y1="1334.4" x2="700.7" y2="1334.4" stroke="#98B954" stroke-width="3.3" stroke-linecap="round"/><text x="704.5" y="1339.6" font-family='"Liberation Serif", serif' font-size="14.5" letter-spacing="2.3" fill="#222" stroke="#fff" stroke-width="0.25">手持订单量</text>
</svg>
<div class="cap" style="left:299.0px;top:494.0px;letter-spacing:2.417px">图<span class="s" style="width:5.5px"></span><span class="n" style="font-size:26px">5</span><span class="s" style="width:12px"></span>三大白电产量累计增速</div>
<div class="h" style="left:109.0px;top:528.0px;letter-spacing:2.4px">五、船舶行业</div>
<div class="t" style="left:108.0px;top:584.75px;letter-spacing:2.663px"><span class="n" style="letter-spacing:0.0px">1</span><span class="m">-</span><span class="n" style="letter-spacing:0.0px">3</span><span class="s" style="width:11px"></span>月，我国船舶行业三大指标继续保持快速增长，造船</div>
<div class="t" style="left:45.0px;top:639.0px;letter-spacing:3.381px">完工量<span class="s" style="width:6px"></span><span class="n" style="letter-spacing:0.0px">1235</span><span class="s" style="width:11px"></span>万载重吨，同比增长<span class="s" style="width:6px"></span><span class="n" style="letter-spacing:0.0px">34<span style="letter-spacing:7.9px">.</span>7</span><span class="pc" style="width:15.8px">%</span>；承接新船订单<span class="s" style="width:6px"></span><span class="n" style="letter-spacing:0.0px">2414</span></div>
<div class="t" style="left:45.0px;top:695.5px;letter-spacing:3.221px">万载重吨，同比增长<span class="s" style="width:6px"></span><span class="n" style="letter-spacing:0.0px">59<span style="letter-spacing:7.9px">.</span>0</span><span class="pc" style="width:15.8px">%</span>；<span class="n" style="letter-spacing:0.0px">3</span><span class="s" style="width:11px"></span>月底，手持船舶订单<span class="s" style="width:6px"></span><span class="n" style="letter-spacing:0.0px">15404</span><span class="s" style="width:11px"></span>万</div>
<div class="t" style="left:44.5px;top:751.75px;letter-spacing:3.325px">载重吨，同比增长<span class="s" style="width:6px"></span><span class="n" style="letter-spacing:0.0px">34<span style="letter-spacing:7.9px">.</span>5</span><span class="pc" style="width:15.8px">%</span><span class="o" style="width:32.33px"></span>出口船三大指标占比均超<span class="s" style="width:6px"></span><span class="n" style="letter-spacing:0.0px">85</span><span class="pc" style="width:15.8px">%</span><span class="o" style="width:32.33px"></span></div>
<div class="t" style="left:107.5px;top:808.25px;letter-spacing:3.325px"><span class="n" style="letter-spacing:0.0px">3</span><span class="s" style="width:11px"></span>月，我国造船完工量同比下降<span class="s" style="width:6px"></span><span class="n" style="letter-spacing:0.0px">17<span style="letter-spacing:7.9px">.</span>2</span><span class="pc" style="width:15.8px">%</span>；新承接船舶订单</div>
<div class="t" style="left:45.0px;top:865.0px;letter-spacing:3.7px">量同比增长<span class="s" style="width:6px"></span><span class="n" style="letter-spacing:0.0px">50<span style="letter-spacing:7.9px">.</span>8</span><span class="pc" style="width:15.8px">%</span><span class="o" style="width:32.70px"></span></div>
<div class="cap" style="left:300.0px;top:1380.0px;letter-spacing:2.237px">图<span class="s" style="width:5.5px"></span><span class="n" style="font-size:26px">6</span><span class="s" style="width:12px"></span>造船三大指标累计情况</div>
</body></html>
